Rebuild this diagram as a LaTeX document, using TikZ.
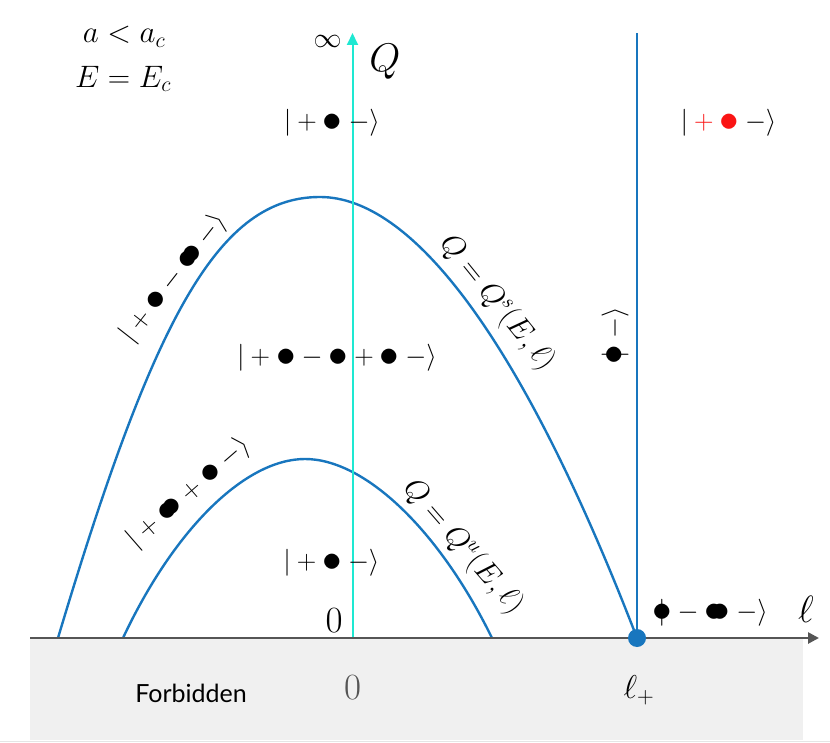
\RequirePackage{fix-cm}
\documentclass[tikz,border=0pt]{standalone}
\usepackage{fontspec}
\newfontfamily\forbfont{Lato}
\usetikzlibrary{arrows.meta}
\definecolor{curveblue}{RGB}{24,118,190}
\definecolor{axcyan}{RGB}{30,232,210}
\definecolor{axgray}{RGB}{85,85,85}
\definecolor{forbgray}{RGB}{240,240,240}
\definecolor{ketred}{RGB}{250,20,20}
\newcommand{\bd}{\mathord{\vcenter{\hbox{\scalebox{1.45}{$\bullet$}}}}}
\newcommand{\bbd}{\mathord{\vcenter{\hbox{\scalebox{1.45}{$\bullet$}\kern-0.5em\scalebox{1.45}{$\bullet$}}}}}
\newcommand{\pbd}{\mathord{\hbox{\makebox[0pt][l]{\kern0.224em$|$}$\bd$}}}
\newcommand{\kend}{\mskip\medmuskip-\rangle}
\begin{document}
\begin{tikzpicture}[x=1pt,y=-1pt,
  ket/.style={font=\fontsize{27}{32}\selectfont, inner sep=0pt},
  lbl/.style={font=\fontsize{31}{36}\selectfont, inner sep=0pt},
  curvelbl/.style={font=\fontsize{30}{35}\selectfont, inner sep=0pt},
  bigsym/.style={font=\fontsize{38}{44}\selectfont, inner sep=0pt},
  curve/.style={curveblue, line width=2.4pt, line join=round}]
\useasboundingbox (0,0) rectangle (830,743);
% forbidden region
\fill[forbgray] (30,638) rectangle (803,740);
\draw[gray!20, line width=0.6pt] (0,741.5) -- (830,741.5);
% coordinates
\coordinate (xs) at (30,638);
\coordinate (xe) at (819,638);
\coordinate (ys) at (352.5,638);
\coordinate (ye) at (352.5,33);
\coordinate (bs) at (637,638);
\coordinate (be) at (637,33);
% curves
\draw[curve] (58,638) .. controls (155.2,312.3) and (220,197) .. (320,197)
                      .. controls (410,197) and (519,332) .. (637,638);
\draw[curve] (123,638) .. controls (174,529.4) and (245,459) .. (305,459)
                       .. controls (365,459) and (439.2,530.2) .. (492,638);
% axes
\draw[axcyan, line width=2pt, -{Triangle[length=12pt,width=11pt]}] (ys) -- (ye);
\draw[curveblue, line width=2.6pt] (bs) -- (be);
\draw[axgray, line width=2.6pt, -{Triangle[length=11pt,width=11pt]}] (xs) -- (xe);
\node[circle, fill=curveblue, minimum size=18pt, inner sep=0pt] (lp) at (bs) {};
% labels
\node[lbl] (ac) at (124,37) {$a<a_c$};
\node[lbl] (ec) at (123,79) {$E=E_c$};
\node[font=\fontsize{28}{32}\selectfont, inner sep=0pt] (inf) at (327.5,41) {$\infty$};
\node[font=\fontsize{40}{46}\selectfont, inner sep=0pt] (Q) at (385,62) {$Q$};
\node[bigsym] (ell) at (806,609) {$\ell$};
\node[font=\fontsize{33}{38}\selectfont, inner sep=0pt] (lplus) at (639,690) {$\ell_+$};
\node[font=\fontsize{37}{42}\selectfont, inner sep=0pt] (zeroa) at (334,621) {$0$};
\node[font=\fontsize{37}{42}\selectfont, inner sep=0pt, text=axgray] (zerob) at (352.5,688) {$0$};
\node[font=\forbfont\fontsize{25}{30}\selectfont, inner sep=0pt] (forb) at (191,693) {Forbidden};
% kets
\node[ket] (k1) at (332,123) {$|+\bd\kend$};
\node[ket] (k2) at (728.5,123) {$|\mathbin{\color{ketred}+}\mathord{\color{ketred}\bd}\kend$};
\node[ket] (k3) at (337,358) {$|+\bd-\bd+\bd\kend$};
\node[ket] (k4) at (331.5,563) {$|+\bd\kend$};
\node[ket, rotate=52] (k5) at (174,278) {$|+\bd-\bbd\kend$};
\node[ket, rotate=41] (k6) at (189,493) {$|+\bbd+\bd\kend$};
\node[ket] (k7) at (710,613) {$\pbd-\bbd\kend$};
\node[ket, rotate=90] (k8) at (615,336) {$\pbd\kend$};
% curve labels
\node[curvelbl, rotate=-51] (qs) at (497,303) {$Q=Q^s(E,\ell)$};
\node[curvelbl, rotate=-49] (qu) at (463,547) {$Q=Q^u(E,\ell)$};
\end{tikzpicture}
\end{document}
